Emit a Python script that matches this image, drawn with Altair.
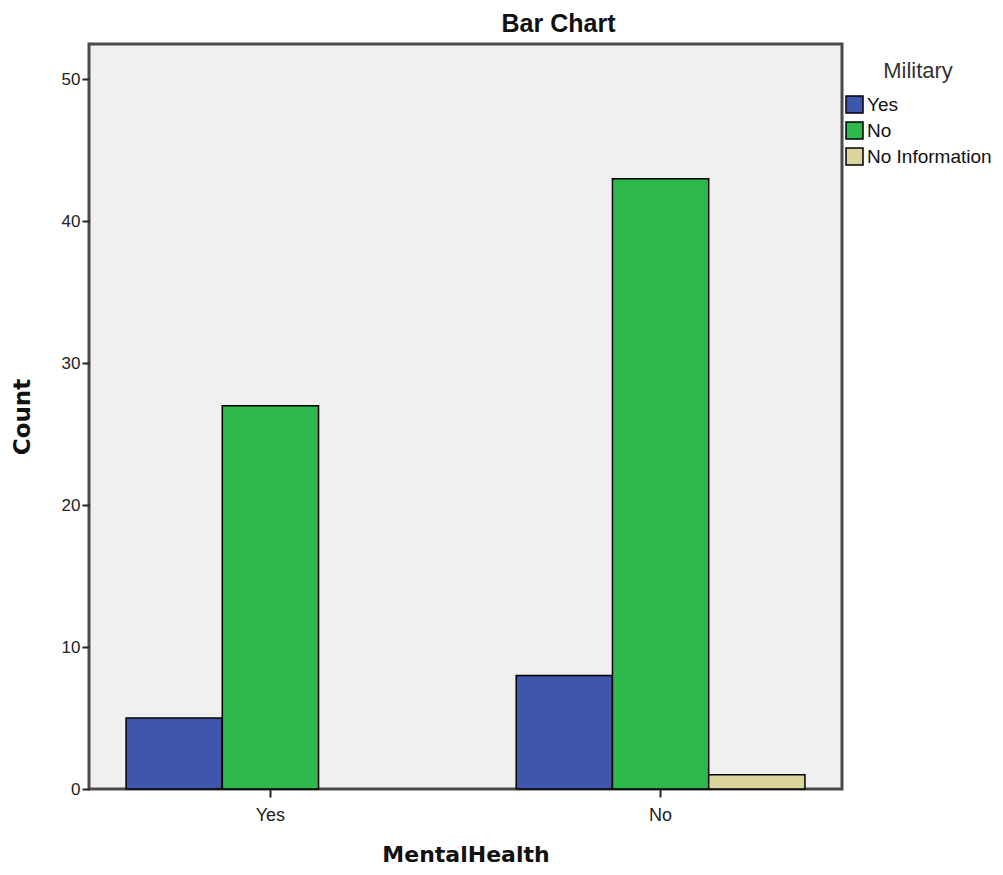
import altair as alt
import pandas as pd

groups = ["Yes", "No"]
military = ["Yes", "No", "No Information"]
mh = ["Yes", "Yes", "No", "No", "No"]
mil = ["Yes", "No", "Yes", "No", "No Information"]
counts = [5, 27, 8, 43, 1]
colors = ["#3E56AC", "#2FB84B", "#DCD69C"]

df = pd.DataFrame({"MentalHealth": mh, "Military": mil, "Count": counts})

chart = alt.Chart(df).mark_bar(stroke="black", strokeWidth=1.5).encode(
    x=alt.X("MentalHealth:N", sort=groups,
            scale=alt.Scale(paddingInner=0.26, paddingOuter=0.095),
            axis=alt.Axis(title="MentalHealth", labelAngle=0, labelFontSize=18,
                          labelFont="Liberation Sans", labelColor="#222",
                          tickSize=8, tickColor="#222", tickWidth=2, labelPadding=9,
                          domain=False, titleFont="DejaVu Sans", titleFontSize=22,
                          titleFontWeight="bold", titleColor="#111", titlePadding=20)),
    xOffset=alt.XOffset("Military:N", sort=military,
                        scale=alt.Scale(domain=military, paddingInner=0, paddingOuter=0)),
    y=alt.Y("Count:Q", scale=alt.Scale(domain=[0, 52.5], nice=False),
            axis=alt.Axis(title="Count", values=[0, 10, 20, 30, 40, 50], labelFontSize=17,
                          labelFont="Liberation Sans", labelColor="#222",
                          tickSize=7, tickColor="#222", tickWidth=2, labelPadding=2,
                          domain=False, grid=False, titleFont="DejaVu Sans", titleFontSize=23,
                          titleFontWeight="bold", titleColor="#111", titlePadding=27)),
    color=alt.Color("Military:N", sort=military,
                    scale=alt.Scale(domain=military, range=colors),
                    legend=alt.Legend(title="Military", orient="none", legendX=756, legendY=17,
                                      titleFont="Liberation Sans", titleFontSize=22,
                                      titleFontWeight="normal", titleColor="#333",
                                      titleAnchor="middle", titlePadding=12,
                                      labelFont="Liberation Sans", labelFontSize=19,
                                      labelColor="#111", labelOffset=3,
                                      symbolType="square", symbolSize=289,
                                      symbolStrokeColor="black", symbolStrokeWidth=1.5,
                                      symbolOpacity=1, rowPadding=3)),
).properties(
    width=753,
    height=745,
    title=alt.TitleParams("Bar Chart", font="Liberation Sans", fontSize=25,
                          fontWeight="bold", color="#111", dx=93, offset=7),
    autosize=alt.AutoSizeParams(type="none"),
    padding={"left": 81, "top": 36, "right": 150, "bottom": 78},
).configure(
    background="white"
).configure_view(
    fill="#F0F0F0", stroke="#4A4A4A", strokeWidth=3
)

chart.save("out.html", embed_options={"renderer": "svg", "actions": False})
